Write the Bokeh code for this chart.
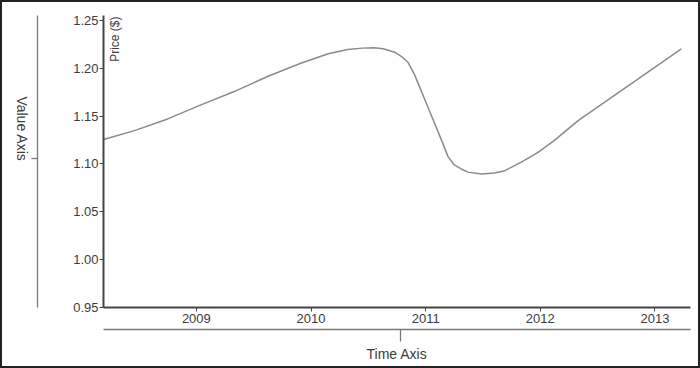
import math
from bokeh.plotting import figure
from bokeh.models import Range1d, FixedTicker, Label, LinearAxis
from bokeh.embed import file_html
from bokeh.resources import INLINE

# ---- data ----
years = [2008.19, 2008.46, 2008.75, 2009.04, 2009.33, 2009.62, 2009.91, 2010.15,
         2010.32, 2010.45, 2010.55, 2010.63, 2010.73, 2010.79, 2010.845, 2010.90,
         2011.02, 2011.14, 2011.195, 2011.25, 2011.31, 2011.37, 2011.485, 2011.60,
         2011.69, 2011.83, 2011.98, 2012.12, 2012.33, 2013.23]
prices = [1.1255, 1.1349, 1.1471, 1.1618, 1.1757, 1.1914, 1.2053, 1.2152,
          1.2197, 1.2211, 1.2214, 1.2205, 1.2168, 1.2123, 1.2064, 1.1942,
          1.1593, 1.1244, 1.1077, 1.0990, 1.0948, 1.0915, 1.0896, 1.0905,
          1.0930, 1.1017, 1.1122, 1.1244, 1.1454, 1.2204]
x_ticks = [2009, 2010, 2011, 2012, 2013]
x_tick_labels = ["2009", "2010", "2011", "2012", "2013"]
y_ticks = [0.95, 1.00, 1.05, 1.10, 1.15, 1.20, 1.25]
y_tick_labels = ["0.95", "1.00", "1.05", "1.10", "1.15", "1.20", "1.25"]
y_title = "Price ($)"
value_axis_title = "Value Axis"
time_axis_title = "Time Axis"

# ---- layout (canvas measured as 700x368, drawn 2px inside the border) ----
W, H = 696, 364
CW, CH = 700, 368
FL, FR, FT, FB = 100, 688, 13, 305
FONT = "Liberation Sans"
TXT = "#3c3c3c"
AX = "#444444"
BRACE = "#7a7a7a"
Y_CUSP = 1.1056      # where the left brace points
X_CUSP = 2010.78     # where the bottom brace points

p = figure(width=W, height=H, output_backend="svg", toolbar_location=None,
           x_range=Range1d(2008.19, 2013.31), y_range=Range1d(0.95, 1.2552),
           min_border_left=FL, min_border_right=CW - FR,
           min_border_top=FT, min_border_bottom=CH - FB)
p.styles = {"border": "2px solid #222222", "box-sizing": "content-box"}
p.xgrid.visible = False
p.ygrid.visible = False
p.outline_line_color = None
p.background_fill_color = "white"
p.border_fill_color = "white"

p.line(years, prices, line_color="#8a8a8a", line_width=1.5)

p.xaxis.ticker = FixedTicker(ticks=x_ticks)
p.xaxis.major_label_overrides = dict(zip(x_ticks, x_tick_labels))
p.yaxis.ticker = FixedTicker(ticks=y_ticks)
p.yaxis.major_label_overrides = dict(zip(y_ticks, y_tick_labels))
for ax in (p.xaxis[0], p.yaxis[0]):
    ax.axis_line_color = AX
    ax.axis_line_width = 2
    ax.major_tick_line_color = AX
    ax.major_tick_line_width = 1
    ax.major_tick_in = 0
    ax.major_tick_out = 4
    ax.minor_tick_line_color = None
    ax.major_label_text_font = FONT
    ax.major_label_text_font_size = "13px"
    ax.major_label_text_color = TXT
p.yaxis.major_label_standoff = 1
p.xaxis.major_label_standoff = 2


def spacer(tick, size):
    return LinearAxis(ticker=FixedTicker(ticks=[tick]), major_label_overrides={tick: ""},
                      axis_line_color=None, major_tick_line_color=None,
                      minor_tick_line_color=None, major_tick_in=0,
                      major_tick_out=size, major_label_standoff=0)


# left: invisible gap, then brace + "Value Axis"
p.add_layout(spacer(Y_CUSP, 33), "left")
lbrace = LinearAxis(ticker=FixedTicker(ticks=[Y_CUSP]),
                    major_label_overrides={Y_CUSP: ""},
                    axis_line_color=BRACE, axis_line_width=1.3,
                    major_tick_line_color=BRACE, major_tick_line_width=1.3,
                    major_tick_in=0, major_tick_out=6, minor_tick_line_color=None,
                    major_label_standoff=0,
                    axis_label=value_axis_title, axis_label_standoff=10,
                    axis_label_orientation=-math.pi / 2,
                    axis_label_text_font=FONT, axis_label_text_font_size="14px",
                    axis_label_text_font_style="normal", axis_label_text_color=TXT)
p.add_layout(lbrace, "left")

# bottom: invisible gap, then brace + "Time Axis"
p.add_layout(spacer(X_CUSP, 4), "below")
bbrace = LinearAxis(ticker=FixedTicker(ticks=[X_CUSP]),
                    major_label_overrides={X_CUSP: ""},
                    axis_line_color=BRACE, axis_line_width=1.3,
                    major_tick_line_color=BRACE, major_tick_line_width=1.3,
                    major_tick_in=0, major_tick_out=12, minor_tick_line_color=None,
                    major_label_standoff=0,
                    axis_label=time_axis_title, axis_label_standoff=4,
                    axis_label_text_font=FONT, axis_label_text_font_size="14px",
                    axis_label_text_font_style="normal", axis_label_text_color=TXT)
p.add_layout(bbrace, "below")

p.add_layout(Label(x=11.5, y=FB - FT - 1, x_units="screen", y_units="screen",
                   text=y_title, angle=math.pi / 2, text_align="right",
                   text_baseline="middle", text_font=FONT, text_font_size="12px",
                   text_color=TXT))

open("out.html", "w").write(file_html(p, INLINE))
